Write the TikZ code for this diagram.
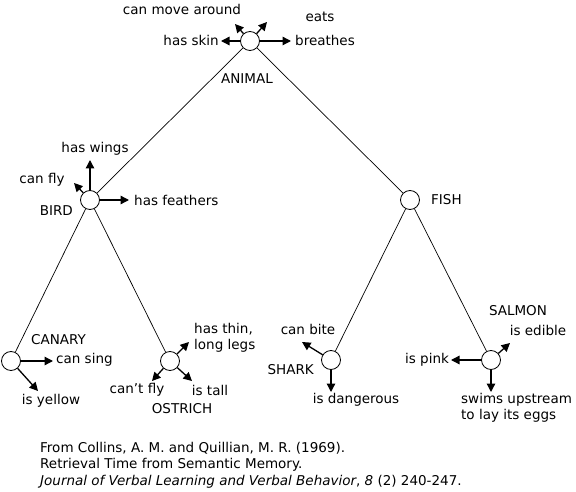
\documentclass[tikz,border=0pt]{standalone}
\usepackage{fontspec}
\setmainfont{DejaVu Sans}
\usetikzlibrary{arrows.meta}
\begin{document}
\begin{tikzpicture}[x=1pt,y=-1pt,
  concept/.style={circle,draw,line width=0.8pt,minimum size=19pt,inner sep=0pt},
  lbl/.style={inner sep=0pt,font=\fontsize{13.5}{16.5}\selectfont},
  arr/.style={line width=1.3pt,-{Triangle[length=8.5pt,width=8.5pt]}},
  link/.style={line width=0.7pt}]
\useasboundingbox (0,0) rectangle (576,492);
% concept nodes
\node[concept] (animal) at (250,41) {};
\node[concept] (bird) at (90,200) {};
\node[concept] (fish) at (410,200) {};
\node[concept] (canary) at (11,361) {};
\node[concept] (ostrich) at (170,361) {};
\node[concept] (shark) at (331,360) {};
\node[concept] (salmon) at (491,360) {};
% tree links
\draw[link] (animal) -- (bird);
\draw[link] (animal) -- (fish);
\draw[link] (bird) -- (canary);
\draw[link] (bird) -- (ostrich);
\draw[link] (fish) -- (shark);
\draw[link] (fish) -- (salmon);
% category labels
\node[lbl] (lanimal) at (247,79) {ANIMAL};
\node[lbl,anchor=east] (lbird) at (73,211) {BIRD};
\node[lbl,anchor=west] (lfish) at (431,200) {FISH};
\node[lbl,anchor=west] (lcanary) at (31,340) {CANARY};
\node[lbl] (lostrich) at (182,409) {OSTRICH};
\node[lbl,anchor=east] (lshark) at (314,370) {SHARK};
\node[lbl] (lsalmon) at (518,311) {SALMON};
% arrow tips
\coordinate (tmove) at (235,24);
\coordinate (teats) at (267,22);
\coordinate (tskin) at (221,41);
\coordinate (tbreath) at (291,41);
\coordinate (twings) at (90,160);
\coordinate (tcanfly) at (74,183);
\coordinate (tfeath) at (129,200);
\coordinate (tsing) at (53,361);
\coordinate (tyellow) at (38,391);
\coordinate (tlegs) at (189,342);
\coordinate (tcantfly) at (152,381);
\coordinate (ttall) at (192,381);
\coordinate (tbite) at (302,342);
\coordinate (tdanger) at (331,392);
\coordinate (tedible) at (510,343);
\coordinate (tpink) at (451,360);
\coordinate (tswims) at (491,392);
% property arrows
\draw[arr] (animal) -- (tmove);
\draw[arr] (animal) -- (teats);
\draw[arr] (animal) -- (tskin);
\draw[arr] (animal) -- (tbreath);
\draw[arr] (bird) -- (twings);
\draw[arr] (bird) -- (tcanfly);
\draw[arr] (bird) -- (tfeath);
\draw[arr] (canary) -- (tsing);
\draw[arr] (canary) -- (tyellow);
\draw[arr] (ostrich) -- (tlegs);
\draw[arr] (ostrich) -- (tcantfly);
\draw[arr] (ostrich) -- (ttall);
\draw[arr] (shark) -- (tbite);
\draw[arr] (shark) -- (tdanger);
\draw[arr] (salmon) -- (tedible);
\draw[arr] (salmon) -- (tpink);
\draw[arr] (salmon) -- (tswims);
% property texts
\node[lbl] (pmove) at (182,9) {can move around};
\node[lbl] (peats) at (320,17) {eats};
\node[lbl,anchor=east] (pskin) at (219,40) {has skin};
\node[lbl,anchor=west] (pbreath) at (295,40) {breathes};
\node[lbl] (pwings) at (95,149) {has wings};
\node[lbl] (pcanfly) at (42,180) {can fly};
\node[lbl,anchor=west] (pfeath) at (134,200) {has feathers};
\node[lbl,anchor=west] (psing) at (56,360) {can sing};
\node[lbl] (pyellow) at (51,401) {is yellow};
\node[lbl,anchor=west,align=left] (plegs) at (194,338) {has thin,\\long legs};
\node[lbl] (pcantfly) at (137,390) {can’t fly};
\node[lbl] (ptall) at (210,390) {is tall};
\node[lbl] (pbite) at (308,329) {can bite};
\node[lbl] (pdanger) at (356,400) {is dangerous};
\node[lbl] (pedible) at (538,330) {is edible};
\node[lbl] (ppink) at (427,360) {is pink};
\node[lbl,anchor=west,align=left] (pswims) at (461,408) {swims upstream\\to lay its eggs};
% citation
\node[lbl,anchor=west] (cite1) at (40,448) {From Collins, A. M. and Quillian, M. R. (1969).};
\node[lbl,anchor=west] (cite2) at (40,465) {Retrieval Time from Semantic Memory.};
\node[lbl,anchor=west] (cite3) at (40,482) {\textit{Journal of Verbal Learning and Verbal Behavior}, \textit{8} (2) 240-247.};
\end{tikzpicture}
\end{document}
